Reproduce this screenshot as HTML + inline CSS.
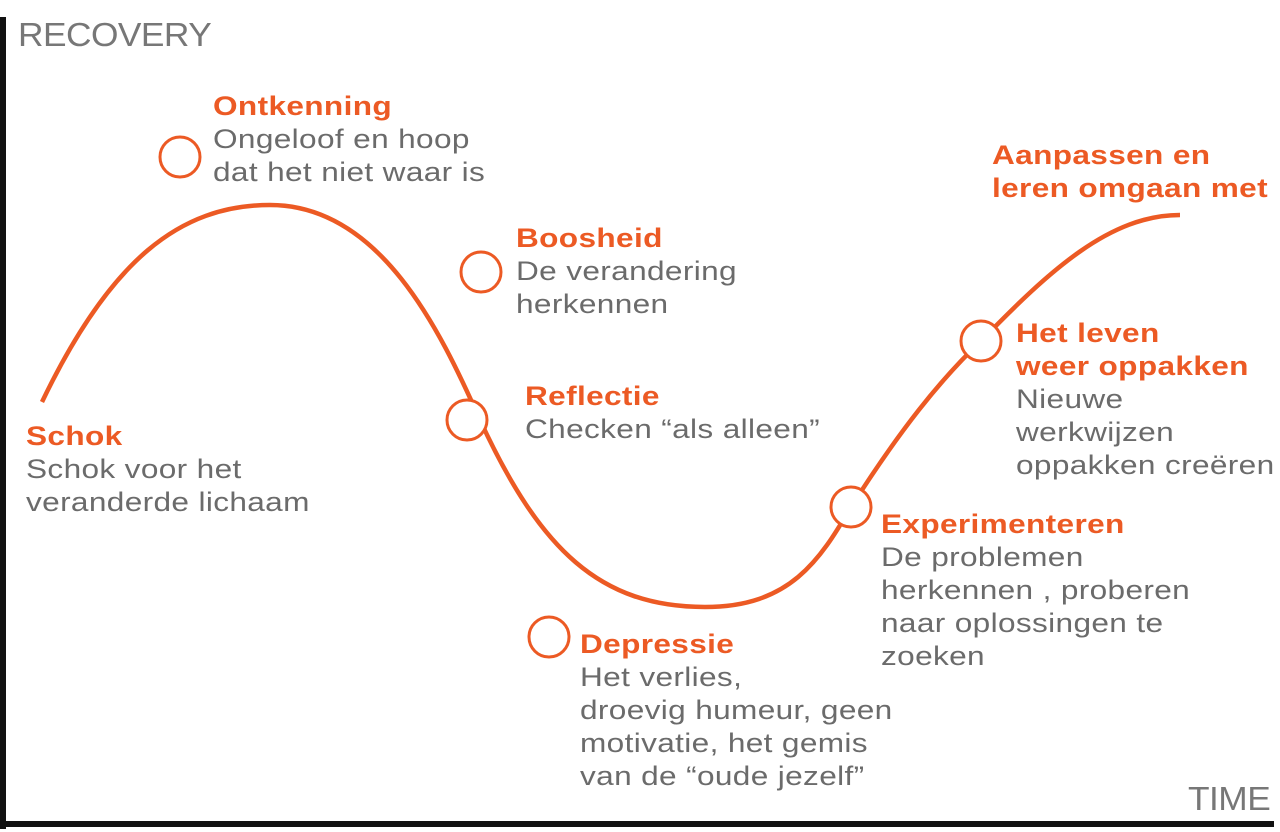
<!DOCTYPE html>
<html><head><meta charset="utf-8"><style>
body{margin:0;width:1280px;height:832px;background:#fff;position:relative;overflow:hidden;font-family:"Liberation Sans",Arial,sans-serif}
.t{position:absolute;font-size:27px;line-height:33px;color:#6b6b6b;white-space:nowrap;letter-spacing:0.3px;transform:scaleX(1.17);transform-origin:0 0}
.t b{color:#ec5a24;display:block}
.ax{position:absolute;font-size:33px;color:#777;letter-spacing:-0.5px;transform:scaleX(1.07);transform-origin:0 0}
</style></head><body>
<div style="position:absolute;left:0;top:17px;width:6px;height:812px;background:#111"></div>
<div style="position:absolute;left:0;top:821px;width:1274px;height:6px;background:#111"></div>
<div class="ax" style="left:18px;top:16px">RECOVERY</div>
<div class="ax" style="left:1188px;top:780px">TIME</div>
<svg width="1280" height="832" style="position:absolute;left:0;top:0">
<path d="M42,402 C110,260 180,205 270,205 C380,205 440,330 480,420 C540,550 600,607 705,607 C790,607 820,560 851,507 C900,430 940,380 981,341 C1050,270 1110,215 1180,215" fill="none" stroke="#ec5a24" stroke-width="4.5"/>
<g fill="#fff" stroke="#ec5a24" stroke-width="3">
<circle cx="180" cy="157" r="20"/><circle cx="481" cy="272" r="20"/><circle cx="467" cy="420" r="20"/>
<circle cx="549" cy="637" r="20"/><circle cx="851" cy="507" r="20"/><circle cx="981" cy="341" r="20"/>
</g></svg>
<div class="t" style="left:213px;top:90px"><b>Ontkenning</b>Ongeloof en hoop<br>dat het niet waar is</div>
<div class="t" style="left:516px;top:222px"><b>Boosheid</b>De verandering<br>herkennen</div>
<div class="t" style="left:525px;top:380px"><b>Reflectie</b>Checken “als alleen”</div>
<div class="t" style="left:26px;top:420px"><b>Schok</b>Schok voor het<br>veranderde lichaam</div>
<div class="t" style="left:580px;top:628px"><b>Depressie</b>Het verlies,<br>droevig humeur, geen<br>motivatie, het gemis<br>van de “oude jezelf”</div>
<div class="t" style="left:881px;top:508px"><b>Experimenteren</b>De problemen<br>herkennen , proberen<br>naar oplossingen te<br>zoeken</div>
<div class="t" style="left:1016px;top:317px"><b>Het leven<br>weer oppakken</b>Nieuwe<br>werkwijzen<br>oppakken creëren</div>
<div class="t" style="left:992px;top:139px"><b>Aanpassen en<br>leren omgaan met</b></div>
</body></html>
